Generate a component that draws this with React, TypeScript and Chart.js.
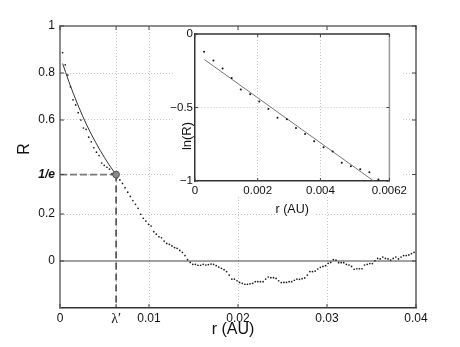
import React, { useEffect, useRef } from 'react';
import { Chart, registerables } from 'chart.js';

Chart.register(...registerables);

const FONT = "'Liberation Sans', Arial, Helvetica, sans-serif";

// ---------- main chart data ----------
const xMin = 0;
const xMax = 0.04;
const yMin = -0.2;
const yMax = 1;
const invE = 0.3679;
const lambdaPrime = 0.0063;

const mainR_r = [
  0.00029, 0.00059, 0.00088, 0.00117, 0.00146, 0.00176, 0.00205, 0.00234, 0.00263, 0.00293,
  0.00322, 0.00351, 0.0038, 0.0041, 0.00439, 0.00468, 0.00497, 0.00527, 0.00556, 0.00585,
  0.00614, 0.00644, 0.00673, 0.00702, 0.00731, 0.00761, 0.0079, 0.00819, 0.00848, 0.00878,
  0.00907, 0.00936, 0.00965, 0.00995, 0.01024, 0.01053, 0.01082, 0.01112, 0.01141, 0.0117,
  0.01199, 0.01229, 0.01258, 0.01287, 0.01316, 0.01346, 0.01375, 0.01404, 0.01433, 0.01463,
  0.01492, 0.01521, 0.0155, 0.0158, 0.01609, 0.01638, 0.01667, 0.01697, 0.01726, 0.01755,
  0.01784, 0.01814, 0.01843, 0.01872, 0.01901, 0.01931, 0.0196, 0.01989, 0.02018, 0.02048,
  0.02077, 0.02106, 0.02135, 0.02165, 0.02194, 0.02223, 0.02252, 0.02282, 0.02311, 0.0234,
  0.02369, 0.02399, 0.02428, 0.02457, 0.02486, 0.02516, 0.02545, 0.02574, 0.02603, 0.02633,
  0.02662, 0.02691, 0.0272, 0.0275, 0.02779, 0.02808, 0.02837, 0.02867, 0.02896, 0.02925,
  0.02954, 0.02984, 0.03013, 0.03042, 0.03071, 0.03101, 0.0313, 0.03159, 0.03188, 0.03218,
  0.03247, 0.03276, 0.03305, 0.03335, 0.03364, 0.03393, 0.03422, 0.03452, 0.03481, 0.0351,
  0.03539, 0.03569, 0.03598, 0.03627, 0.03656, 0.03686, 0.03715, 0.03744, 0.03773, 0.03803,
  0.03832, 0.03861, 0.0389, 0.0392, 0.03949, 0.03978,
];

const mainR = [
  0.887, 0.835, 0.791, 0.741, 0.686, 0.664, 0.631, 0.6, 0.566, 0.56,
  0.527, 0.507, 0.482, 0.463, 0.449, 0.417, 0.407, 0.399, 0.391, 0.372,
  0.368, 0.355, 0.345, 0.33, 0.312, 0.293, 0.275, 0.257, 0.241, 0.224,
  0.199, 0.182, 0.17, 0.156, 0.149, 0.125, 0.114, 0.103, 0.099, 0.085,
  0.075, 0.071, 0.064, 0.057, 0.054, 0.045, 0.037, 0.023, 0.006, -0.006,
  -0.014, -0.014, -0.018, -0.018, -0.014, -0.017, -0.015, -0.013, -0.014, -0.02,
  -0.026, -0.031, -0.037, -0.045, -0.06, -0.077, -0.077, -0.084, -0.091, -0.095,
  -0.099, -0.099, -0.097, -0.095, -0.088, -0.088, -0.088, -0.088, -0.077, -0.068,
  -0.071, -0.071, -0.074, -0.084, -0.092, -0.091, -0.091, -0.088, -0.088, -0.082,
  -0.077, -0.078, -0.075, -0.072, -0.06, -0.045, -0.045, -0.043, -0.034, -0.027,
  -0.023, -0.02, -0.01, -0.006, 0.006, 0.004, -0.007, -0.007, -0.007, -0.014,
  -0.017, -0.023, -0.035, -0.033, -0.033, -0.033, -0.017, -0.014, -0.011, -0.011,
  0.001, 0.011, 0.009, 0.017, 0.011, 0.009, 0.004, 0.011, 0.017, 0.009,
  0.017, 0.023, 0.023, 0.026, 0.031, 0.037,
];

// exponential fit drawn in the main panel
const fitMain_r = [0.0003, 0.001, 0.002, 0.003, 0.004, 0.005, 0.006, 0.0063];
const fitMain_R = [0.84, 0.763, 0.665, 0.579, 0.505, 0.44, 0.383, 0.368];

const xTickValues = [0, 0.0063, 0.01, 0.02, 0.03, 0.04];
const xTickLabels = ['0', 'λ′', '0.01', '0.02', '0.03', '0.04'];
const yTickValues = [0, 0.2, 0.3679, 0.6, 0.8, 1];
const yTickLabels = ['0', '0.2', '1/e', '0.6', '0.8', '1'];
const mainXTitle = 'r (AU)';
const mainYTitle = 'R';

// ---------- inset data ----------
const inset_r = [
  0.00029, 0.00059, 0.00088, 0.00117, 0.00146, 0.00176, 0.00205, 0.00234, 0.00263, 0.00293,
  0.00322, 0.00351, 0.0038, 0.0041, 0.00439, 0.00468, 0.00497, 0.00527, 0.00556, 0.00585,
  0.00614,
];
const inset_lnR = [
  -0.12, -0.18, -0.235, -0.3, -0.377, -0.41, -0.46, -0.51, -0.57, -0.58,
  -0.64, -0.68, -0.73, -0.77, -0.8, -0.875, -0.9, -0.92, -0.94, -0.99,
  -1.0,
];
const insetFit_r = [0.0003, 0.0057];
const insetFit_lnR = [-0.174, -1.0];

const insetXMin = 0;
const insetXMax = 0.0062;
const insetYMin = -1;
const insetYMax = 0;
const insetXTicks = [0, 0.002, 0.004, 0.0062];
const insetXLabels = ['0', '0.002', '0.004', '0.0062'];
const insetYTicks = [-1, -0.5, 0];
const insetYLabels = ['−1', '−0.5', '0'];
const insetXTitle = 'r (AU)';
const insetYTitle = 'ln(R)';

const pts = (xs: number[], ys: number[]) => xs.map((x, i) => ({ x, y: ys[i] }));

function line(ctx: CanvasRenderingContext2D, x1: number, y1: number, x2: number, y2: number) {
  ctx.beginPath();
  ctx.moveTo(x1, y1);
  ctx.lineTo(x2, y2);
  ctx.stroke();
}

export default function App() {
  const mainRef = useRef<HTMLCanvasElement>(null);
  const insetRef = useRef<HTMLCanvasElement>(null);

  useEffect(() => {
    const mainDecor = {
      id: 'mainDecor',
      afterDraw(chart: any) {
        const { ctx, chartArea, scales } = chart;
        const { left, right, top, bottom } = chartArea;
        const xs = scales.x;
        const ys = scales.y;
        ctx.save();
        ctx.strokeStyle = '#8c8c8c';
        ctx.lineWidth = 2;
        line(ctx, left - 1, top, right, top);
        ctx.strokeStyle = '#333';
        ctx.lineWidth = 1.2;
        line(ctx, right, top - 1, right, bottom);
        ctx.lineWidth = 1;
        ctx.strokeStyle = '#444';
        xTickValues.forEach((v) => {
          const px = xs.getPixelForValue(v);
          line(ctx, px, bottom, px, bottom - 4);
          line(ctx, px, top, px, top + 4);
        });
        yTickValues.forEach((v) => {
          const py = ys.getPixelForValue(v);
          line(ctx, left, py, left + 4, py);
          line(ctx, right, py, right - 4, py);
        });
        ctx.fillStyle = '#111';
        ctx.font = `16px ${FONT}`;
        ctx.textAlign = 'center';
        ctx.textBaseline = 'middle';
        ctx.fillText(mainXTitle, (left + right) / 2 - 5, bottom + 22);
        ctx.translate(left - 35, top + 123);
        ctx.rotate(-Math.PI / 2);
        ctx.fillText(mainYTitle, 0, 0);
        ctx.restore();
      },
    };

    const main = new Chart(mainRef.current as HTMLCanvasElement, {
      type: 'scatter',
      data: {
        datasets: [
          {
            type: 'scatter',
            data: [{ x: lambdaPrime, y: invE }],
            pointRadius: 3.4,
            pointBackgroundColor: '#8a8a8a',
            pointBorderColor: '#555',
            pointBorderWidth: 1,
          } as any,
          {
            type: 'line',
            data: pts(fitMain_r, fitMain_R),
            borderColor: '#333',
            borderWidth: 1,
            pointRadius: 0,
            cubicInterpolationMode: 'monotone',
          } as any,
          {
            type: 'scatter',
            data: pts(mainR_r, mainR),
            pointRadius: 0.85,
            pointBackgroundColor: '#1a1a1a',
            pointBorderWidth: 0,
          } as any,
          {
            type: 'line',
            data: [{ x: xMin, y: invE }, { x: lambdaPrime, y: invE }],
            borderColor: '#7a7a7a',
            borderWidth: 1.8,
            borderDash: [7, 3],
            pointRadius: 0,
          } as any,
          {
            type: 'line',
            data: [{ x: lambdaPrime, y: invE }, { x: lambdaPrime, y: yMin }],
            borderColor: '#111',
            borderWidth: 1.2,
            borderDash: [7, 4],
            pointRadius: 0,
          } as any,
          {
            type: 'line',
            data: [{ x: xMin, y: 0 }, { x: xMax, y: 0 }],
            borderColor: '#444',
            borderWidth: 1,
            pointRadius: 0,
          } as any,
        ],
      },
      options: {
        animation: false,
        responsive: false,
        maintainAspectRatio: false,
        layout: { padding: { left: 0, top: 26, right: 44, bottom: 0 } },
        plugins: { legend: { display: false }, tooltip: { enabled: false } },
        scales: {
          x: {
            type: 'linear',
            min: xMin,
            max: xMax,
            afterBuildTicks: (s: any) => {
              s.ticks = xTickValues.map((v) => ({ value: v }));
            },
            afterFit: (s: any) => {
              s.height = 39;
            },
            ticks: {
              autoSkip: false,
              maxRotation: 0,
              padding: 3,
              color: '#111',
              font: (c: any) =>
                c.index === 1
                  ? { family: "'Liberation Serif', 'DejaVu Serif', serif", size: 14 }
                  : { family: FONT, size: 12 },
              callback: (_v: any, i: number) => xTickLabels[i],
            },
            grid: {
              drawTicks: false,
              lineWidth: 1,
              color: (c: any) =>
                c.tick && (c.tick.value === xMin || c.tick.value === xMax) ? 'rgba(0,0,0,0)' : '#c4c4c4',
            },
            border: { color: '#333', width: 1.5, dash: [1, 2] },
          },
          y: {
            type: 'linear',
            min: yMin,
            max: yMax,
            afterBuildTicks: (s: any) => {
              s.ticks = yTickValues.map((v) => ({ value: v }));
            },
            afterFit: (s: any) => {
              s.width = 60;
            },
            ticks: {
              autoSkip: false,
              padding: 5,
              color: '#111',
              font: (c: any) =>
                c.index === 2
                  ? { family: FONT, size: 12, style: 'italic', weight: 'bold' }
                  : { family: FONT, size: 12 },
              callback: (_v: any, i: number) => yTickLabels[i],
            },
            grid: {
              drawTicks: false,
              lineWidth: 1,
              color: (c: any) =>
                c.tick && (c.tick.value === yMax || c.tick.value === 0) ? 'rgba(0,0,0,0)' : '#c4c4c4',
            },
            border: { color: '#8c8c8c', width: 2, dash: [1, 2] },
          },
        },
      },
      plugins: [mainDecor],
    } as any);

    const insetDecor = {
      id: 'insetDecor',
      beforeDraw(chart: any) {
        const { ctx } = chart;
        ctx.save();
        ctx.fillStyle = '#fff';
        ctx.fillRect(15, 11, 226, 164);
        ctx.font = `12.5px ${FONT}`;
        const w = ctx.measureText(insetXTitle).width;
        ctx.fillRect(137.5 - w / 2 - 1, 183, w + 2, 14);
        ctx.restore();
      },
      afterDraw(chart: any) {
        const { ctx, chartArea, scales } = chart;
        const { left, right, top, bottom } = chartArea;
        const xs = scales.x;
        const ys = scales.y;
        ctx.save();
        ctx.strokeStyle = '#333';
        ctx.lineWidth = 1.5;
        line(ctx, left, top, right, top);
        ctx.strokeStyle = '#999';
        line(ctx, right, top, right, bottom);
        ctx.strokeStyle = '#444';
        ctx.lineWidth = 1;
        insetXTicks.forEach((v) => {
          const px = xs.getPixelForValue(v);
          line(ctx, px, bottom, px, bottom - 3);
          line(ctx, px, top, px, top + 3);
        });
        insetYTicks.forEach((v) => {
          const py = ys.getPixelForValue(v);
          line(ctx, left, py, left + 3, py);
          line(ctx, right, py, right - 3, py);
        });
        ctx.fillStyle = '#111';
        ctx.textAlign = 'center';
        ctx.textBaseline = 'middle';
        ctx.font = `12.5px ${FONT}`;
        ctx.fillText(insetXTitle, (left + right) / 2, bottom + 29);
        ctx.font = `13px ${FONT}`;
        ctx.translate(left - 8, top + 102);
        ctx.rotate(-Math.PI / 2);
        ctx.fillText(insetYTitle, 0, 0);
        ctx.restore();
      },
    };

    const inset = new Chart(insetRef.current as HTMLCanvasElement, {
      type: 'scatter',
      data: {
        datasets: [
          {
            type: 'scatter',
            data: pts(inset_r, inset_lnR),
            pointRadius: 1,
            pointBackgroundColor: '#111',
            pointBorderWidth: 0,
          } as any,
          {
            type: 'line',
            data: pts(insetFit_r, insetFit_lnR),
            borderColor: '#777',
            borderWidth: 1,
            pointRadius: 0,
          } as any,
        ],
      },
      options: {
        animation: false,
        responsive: false,
        maintainAspectRatio: false,
        layout: { padding: { left: 0, top: 14, right: 10, bottom: 0 } },
        plugins: { legend: { display: false }, tooltip: { enabled: false } },
        scales: {
          x: {
            type: 'linear',
            min: insetXMin,
            max: insetXMax,
            afterBuildTicks: (s: any) => {
              s.ticks = insetXTicks.map((v) => ({ value: v }));
            },
            afterFit: (s: any) => {
              s.height = 39;
            },
            ticks: {
              autoSkip: false,
              maxRotation: 0,
              padding: 3,
              color: '#111',
              font: { family: FONT, size: 11.5 },
              callback: (_v: any, i: number) => insetXLabels[i],
            },
            grid: {
              drawTicks: false,
              color: (c: any) => (c.tick && c.tick.value === insetXMin ? 'rgba(0,0,0,0)' : '#c4c4c4'),
            },
            border: { color: '#333', width: 1.5, dash: [1, 2] },
          },
          y: {
            type: 'linear',
            min: insetYMin,
            max: insetYMax,
            afterBuildTicks: (s: any) => {
              s.ticks = insetYTicks.map((v) => ({ value: v }));
            },
            afterFit: (s: any) => {
              s.width = 35;
            },
            ticks: {
              autoSkip: false,
              padding: 2,
              color: '#111',
              font: { family: FONT, size: 11.5 },
              callback: (_v: any, i: number) => insetYLabels[i],
            },
            grid: {
              drawTicks: false,
              color: (c: any) =>
                c.tick && (c.tick.value === insetYMin || c.tick.value === insetYMax) ? 'rgba(0,0,0,0)' : '#c4c4c4',
            },
            border: { color: '#333', width: 1.5, dash: [1, 2] },
          },
        },
      },
      plugins: [insetDecor],
    } as any);

    return () => {
      main.destroy();
      inset.destroy();
    };
  }, []);

  return (
    <div style={{ position: 'fixed', left: 0, top: 0, width: 460, height: 347, background: '#fff' }}>
      <canvas
        ref={mainRef}
        width={460}
        height={347}
        style={{ position: 'absolute', left: 0, top: 0, width: 460, height: 347 }}
      />
      <canvas
        ref={insetRef}
        width={250}
        height={200}
        style={{ position: 'absolute', left: 160, top: 20, width: 250, height: 200 }}
      />
    </div>
  );
}
